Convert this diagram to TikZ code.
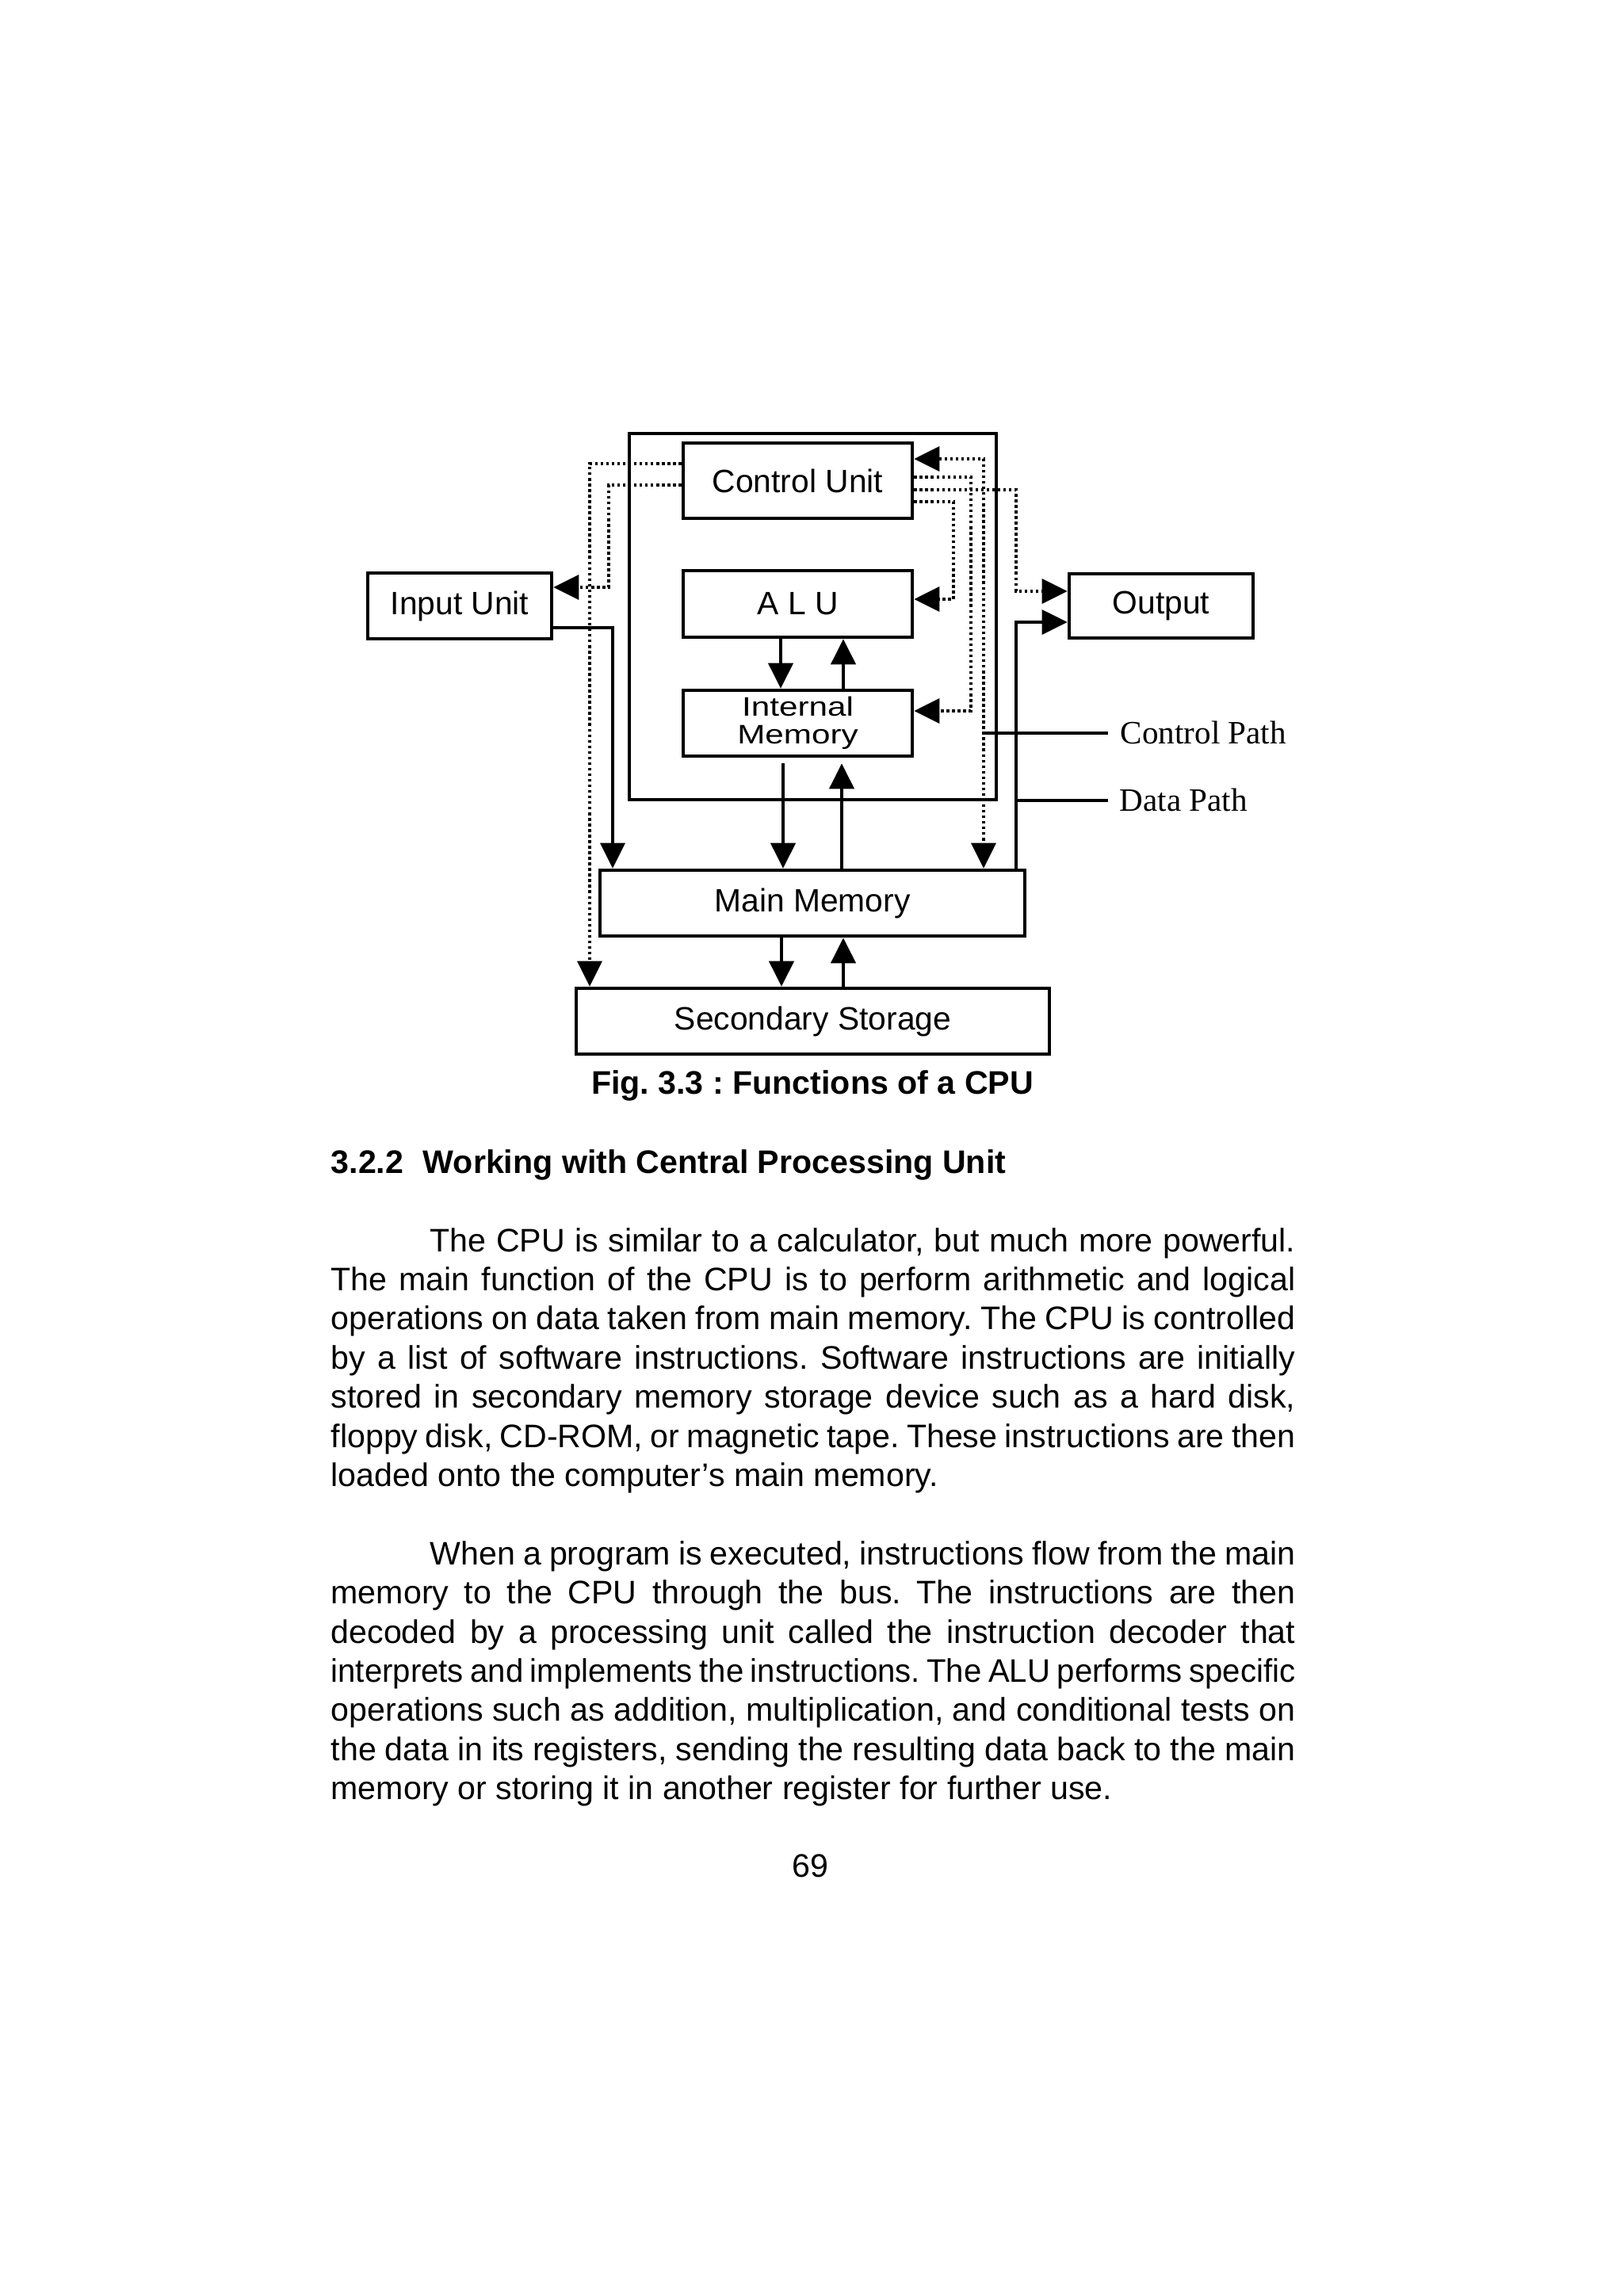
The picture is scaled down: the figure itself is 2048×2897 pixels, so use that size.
\documentclass[tikz,border=0pt]{standalone}
\usepackage{fontspec}
\usepackage{graphicx}
\setmainfont{Liberation Sans}
\newfontfamily\seriffam{Liberation Serif}
\newfontfamily\widefam[FakeStretch=1.25]{Liberation Sans}
\usetikzlibrary{arrows.meta,calc}
\frenchspacing
\newcommand{\diagf}{\fontsize{11.6pt}{13pt}\selectfont}
\newcommand{\bodyf}{\fontsize{11.7pt}{14pt}\selectfont\spaceskip=0.278em plus 0.5em minus 0.2em\relax}
\newcommand{\jl}[2]{\makebox[#1][s]{#2}}
\begin{document}
\begin{tikzpicture}[x=0.01cm,y=-0.01cm,
  >={Triangle[length=3.2mm,width=3.1mm]},
  box/.style={draw, line width=1.3pt, inner sep=0pt, font=\diagf, align=center},
  ctrl/.style={line width=1.05pt, dash pattern=on 1pt off 1pt},
  data/.style={line width=0.9pt},
  shaft/.style={line width=1.2pt},
  body/.style={inner sep=0pt, font=\bodyf, anchor=base west},
  legend/.style={inner sep=0pt, font=\seriffam\fontsize{11.7pt}{14pt}\selectfont, anchor=base west}
]
\useasboundingbox (0,0) rectangle (2048,2897);
\fill[white] (0,0) rectangle (2048,2897);

% boxes
\node[box, minimum width=4.63cm, minimum height=4.62cm] (cpu) at (1025.5,778) {};
\node[box, minimum width=2.89cm, minimum height=0.95cm] (cu) at (1006.5,606.5) {Control Unit};
\node[box, minimum width=2.89cm, minimum height=0.84cm] (alu) at (1006.5,762) {A L U};
\node[box, minimum width=2.89cm, minimum height=0.83cm, font=\widefam\fontsize{9.6pt}{10pt}\selectfont] (im) at (1006.5,912.5) {Internal\\Memory};
\node[box, minimum width=2.32cm, minimum height=0.83cm] (inp) at (580,764.5) {Input Unit};
\node[box, minimum width=2.32cm, minimum height=0.81cm] (out) at (1465,764.5) {Output};
\node[box, minimum width=5.36cm, minimum height=0.83cm] (mm) at (1025,1139.5) {Main Memory};
\node[box, minimum width=5.97cm, minimum height=0.83cm] (ss) at (1025.5,1288.5) {Secondary Storage};

% control paths (dotted)
\draw[ctrl,->] (cu.west |- 0,585) -| (ss.north -| 744,0);
\draw[ctrl,->] (cu.west |- 0,612) -| (768,741) -- (inp.east |- 0,741);
\draw[ctrl,<->] (cu.east |- 0,579) -| (mm.north -| 1241,0);
\draw[ctrl,->] (cu.east |- 0,602) -| (1225,897) -- (im.east |- 0,897);
\draw[ctrl,->] (cu.east |- 0,618) -| (1282,746) -- (out.west |- 0,746);
\draw[ctrl,->] (cu.east |- 0,633) -| (1203,756) -- (alu.east |- 0,756);

% data paths
\draw[data,->] (inp.east |- 0,792) -| (mm.north -| 773,0);
\draw[data,->] (mm.north -| 1282,0) |- (out.west |- 0,785);
\draw[shaft,->] (alu.south -| 985,0) -- (im.north -| 985,0);
\draw[shaft,->] (im.north -| 1064,0) -- (alu.south -| 1064,0);
\draw[shaft,->] ($(im.south -| 988,0)+(0,7)$) -- (mm.north -| 988,0);
\draw[shaft,->] (mm.north -| 1062,0) -- ($(im.south -| 1062,0)+(0,7)$);
\draw[shaft,->] (mm.south -| 986,0) -- (ss.north -| 986,0);
\draw[shaft,->] (ss.north -| 1064,0) -- (mm.south -| 1064,0);

% legend
\coordinate (cp) at (1240,925);
\coordinate (dp) at (1282,1010);
\node[legend] (cpl) at (1413,938) {Control Path};
\node[legend] (dpl) at (1412,1023) {Data Path};
\draw[data] (cp) -- ($(cpl.west |- cp)+(-15,0)$);
\draw[data] (dp) -- ($(dpl.west |- dp)+(-14,0)$);

% caption
\node[inner sep=0pt, anchor=base, font=\bfseries\fontsize{11.7pt}{14pt}\selectfont] (cap) at (1025,1380) {Fig. 3.3 : Functions of a CPU};

% heading
\node[inner sep=0pt, anchor=base west, font=\bfseries\fontsize{11.7pt}{14pt}\selectfont] (head) at (417,1480) {3.2.2\hspace{7pt}Working with Central Processing Unit};

% paragraph 1
\node[body] (a1) at (542,1579) {\jl{10.91cm}{The CPU is similar to a calculator, but much more powerful.}};
\node[body] (a2) at (417,1628.4) {\jl{12.16cm}{The main function of the CPU is to perform arithmetic and logical}};
\node[body] (a3) at (417,1677.8) {\jl{12.16cm}{operations on data taken from main memory. The CPU is controlled}};
\node[body] (a4) at (417,1727.2) {\jl{12.16cm}{by a list of software instructions. Software instructions are initially}};
\node[body] (a5) at (417,1776.6) {\jl{12.16cm}{stored in secondary memory storage device such as a hard disk,}};
\node[body] (a6) at (417,1826) {\jl{12.16cm}{floppy disk, CD-ROM, or magnetic tape. These instructions are then}};
\node[body] (a7) at (417,1875.4) {loaded onto the computer’s main memory.};

% paragraph 2
\node[body] (b1) at (542,1974.2) {\jl{10.91cm}{When a program is executed, instructions flow from the main}};
\node[body] (b2) at (417,2023.6) {\jl{12.16cm}{memory to the CPU through the bus. The instructions are then}};
\node[body] (b3) at (417,2073) {\jl{12.16cm}{decoded by a processing unit called the instruction decoder that}};
\node[body] (b4) at (417,2122.4) {\scalebox{0.975}[1]{\jl{12.472cm}{interprets and implements the instructions. The ALU performs specific}}};
\node[body] (b5) at (417,2171.8) {\jl{12.16cm}{operations such as addition, multiplication, and conditional tests on}};
\node[body] (b6) at (417,2221.2) {\jl{12.16cm}{the data in its registers, sending the resulting data back to the main}};
\node[body] (b7) at (417,2270.6) {memory or storing it in another register for further use.};

% page number
\node[inner sep=0pt, anchor=base, font=\bodyf] (pg) at (1022.5,2368) {69};
\end{tikzpicture}
\end{document}
